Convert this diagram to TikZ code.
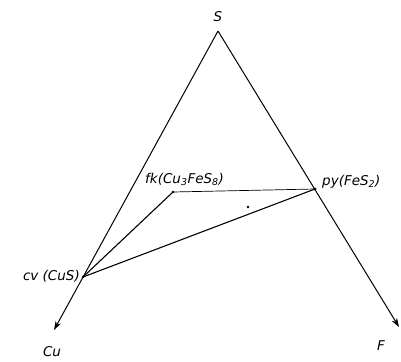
\documentclass[tikz,border=0pt]{standalone}
\usepackage{fontspec}
\setsansfont{DejaVu Sans}
\usetikzlibrary{arrows.meta}
\newcommand{\sbs}[1]{\textsubscript{#1}}
\begin{document}
\begin{tikzpicture}[x=1pt,y=-1pt,
  lbl/.style={font=\sffamily\itshape\fontsize{13.5}{16}\selectfont, inner sep=0pt},
  axis/.style={line width=1pt, -{Stealth[length=9pt,width=6pt]}},
  tie/.style={line width=1.1pt}]
\useasboundingbox (0,0) rectangle (401,361);
\coordinate (S) at (218,31);
\coordinate (Cu) at (54,330);
\coordinate (F) at (399,327);
\coordinate (cv) at (83,277);
\coordinate (fk) at (173,192);
\coordinate (py) at (315,189);
\draw[axis] (S) -- (Cu);
\draw[axis] (S) -- (F);
\draw[tie] (fk) -- (cv);
\draw[tie] (cv) -- (py);
\draw[line width=0.7pt] (fk) -- (py);
\fill (fk) circle (1.3pt);
\fill (py) circle (1.6pt);
\fill (cv) circle (1.3pt);
\fill (248,207) circle (1.4pt);
\node[lbl] (tS) at (218,17) {S};
\node[lbl, anchor=base west] (tfk) at (145,183) {fk(Cu\sbs{3}FeS\sbs{8})};
\node[lbl, anchor=base west] (tpy) at (322,185) {py(FeS\sbs{2})};
\node[lbl, anchor=base east] (tcv) at (80,280) {cv (CuS)};
\node[lbl] (tCu) at (52,352) {Cu};
\node[lbl] (tF) at (381,346) {F};
\end{tikzpicture}
\end{document}
